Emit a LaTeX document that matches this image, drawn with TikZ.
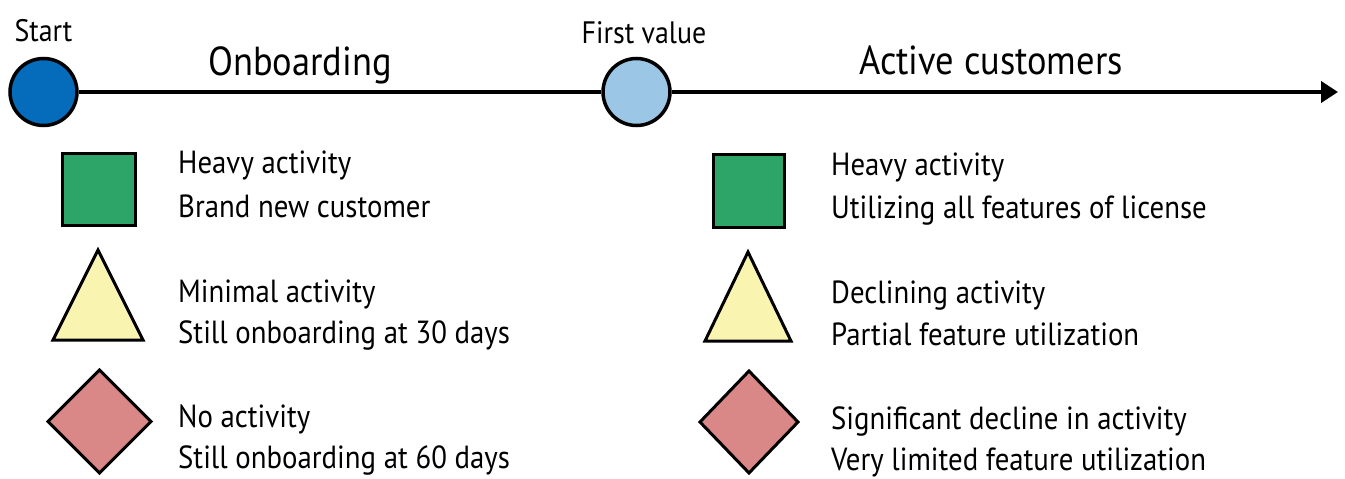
\documentclass[tikz,border=0pt]{standalone}
\usepackage{fontspec}
\setmainfont[FakeStretch=0.9]{PT Sans}
\usetikzlibrary{arrows.meta}
\definecolor{startblue}{RGB}{5,108,188}
\definecolor{valueblue}{RGB}{155,198,230}
\definecolor{heavygreen}{RGB}{46,165,104}
\definecolor{minyellow}{RGB}{249,245,176}
\definecolor{nonepink}{RGB}{218,135,135}
\begin{document}
\begin{tikzpicture}[x=1pt,y=-1pt,
  milestone/.style={circle,draw=black,line width=3.5pt,minimum size=67pt,inner sep=0pt},
  timeline/.style={line width=4pt},
  legendshape/.style={draw=black,line width=3pt,line join=miter},
  milestonelabel/.style={anchor=base,inner sep=0pt,font=\fontsize{31}{36}\selectfont},
  phaselabel/.style={anchor=base,inner sep=0pt,font=\fontsize{40.5}{48}\selectfont},
  legendtext/.style={anchor=base west,inner sep=0pt,font=\fontsize{32}{38}\selectfont}]
\useasboundingbox (0,0) rectangle (1345,479);

% timeline with milestones
\node[milestone,fill=startblue] (start) at (43.5,92) {};
\node[milestone,fill=valueblue] (first) at (636.5,92) {};
\coordinate (tend) at (1338,92);
\draw[timeline] (start) -- (first);
\draw[timeline,-{Triangle[length=17pt,width=21pt]}] (first) -- (tend);

\node[milestonelabel] (startlbl) at (43.5,41) {Start};
\node[milestonelabel] (firstlbl) at (644,43) {First value};
\node[phaselabel] (onb) at (300,75) {Onboarding};
\node[phaselabel] (act) at (991,74) {Active customers};

% onboarding legend
\draw[legendshape,fill=heavygreen] (62,153) rectangle (135,225);
\draw[legendshape,fill=minyellow] (98,250) -- (143,340) -- (53,340) -- cycle;
\draw[legendshape,fill=nonepink] (99.5,370) -- (151,421.5) -- (99.5,473) -- (48,421.5) -- cycle;

\node[legendtext] (l1a) at (178,173) {Heavy activity};
\node[legendtext] (l1b) at (178,217) {Brand new customer};
\node[legendtext] (l2a) at (178,302) {Minimal activity};
\node[legendtext] (l2b) at (178,343) {Still onboarding at 30 days};
\node[legendtext] (l3a) at (178,427) {No activity};
\node[legendtext] (l3b) at (178,468) {Still onboarding at 60 days};

% active customer legend
\draw[legendshape,fill=heavygreen] (713,154) rectangle (784,227);
\draw[legendshape,fill=minyellow] (748,252) -- (791,341) -- (705,341) -- cycle;
\draw[legendshape,fill=nonepink] (749,371) -- (798,422) -- (749,473) -- (700,422) -- cycle;

\node[legendtext] (r1a) at (831,175) {Heavy activity};
\node[legendtext] (r1b) at (831,218) {Utilizing all features of license};
\node[legendtext] (r2a) at (831,303) {Declining activity};
\node[legendtext] (r2b) at (831,345) {Partial feature utilization};
\node[legendtext] (r3a) at (831,429) {Significant decline in activity};
\node[legendtext] (r3b) at (831,470) {Very limited feature utilization};
\end{tikzpicture}
\end{document}
